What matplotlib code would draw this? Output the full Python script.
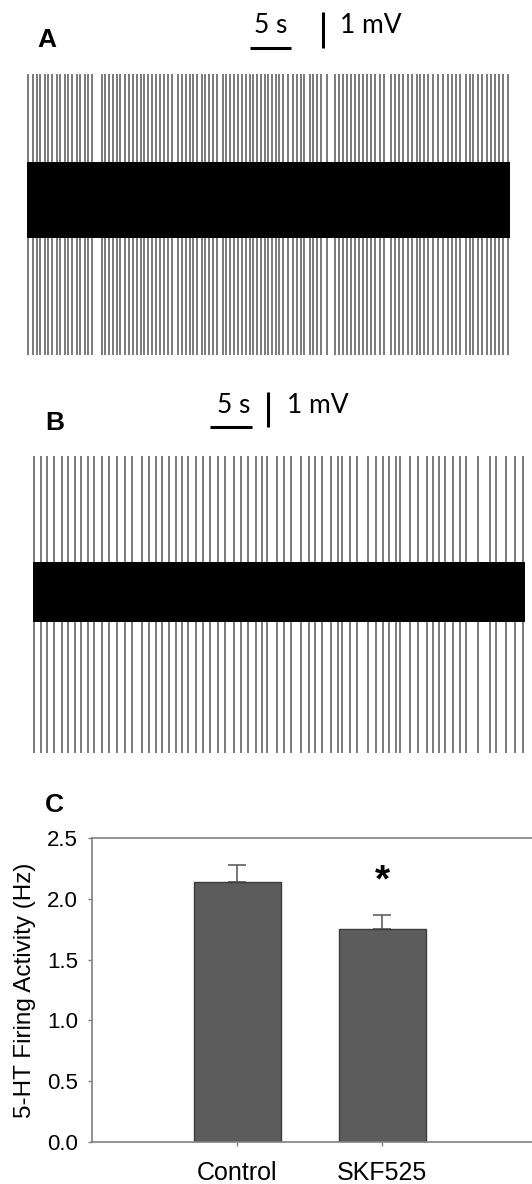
import matplotlib
matplotlib.use("Agg")
import matplotlib.pyplot as plt
import numpy as np

# ---------------- data ----------------
# Panel A: spike times (s) in a ~59 s recording
spikes_a = [0.16, 0.77, 1.18, 1.59, 2.20, 2.60, 3.01, 3.62, 4.02, 4.63, 5.04, 5.45,
            6.06, 6.46, 7.07, 7.48, 7.89, 9.11, 9.51, 10.04, 10.52, 10.94, 11.34,
            11.95, 12.48, 12.96, 13.45, 13.87, 14.30, 14.79, 15.21, 15.73, 16.22,
            16.71, 17.23, 17.65, 18.45, 18.87, 19.35, 19.88, 20.28, 20.77, 21.30,
            21.71, 22.20, 22.65, 23.13, 23.87, 24.27, 24.76, 25.24, 25.77, 26.18,
            26.67, 27.20, 27.60, 28.09, 28.50, 29.02, 29.43, 29.84, 30.33, 30.73,
            31.26, 31.79, 32.48, 32.89, 33.41, 33.82, 34.51, 34.91, 35.33, 35.85,
            36.55, 37.56, 38.05, 38.57, 38.99, 39.51, 40.00, 40.49, 41.01, 41.43,
            41.95, 42.44, 43.05, 43.57, 44.39, 44.88, 45.37, 45.89, 46.43, 46.91,
            47.52, 47.93, 48.45, 48.94, 49.55, 50.09, 50.77, 51.30, 51.79, 52.28,
            52.80, 53.50, 54.02, 54.43, 55.04, 55.52, 56.06, 56.59, 57.07, 57.56,
            58.09, 58.62]
# Panel B: spike times (s)
spikes_b = [0.12, 0.92, 1.70, 2.50, 3.42, 4.20, 5.00, 5.71, 6.58, 7.26, 8.18, 9.05,
            10.04, 10.95, 11.75, 12.94, 13.81, 14.64, 15.39, 16.19, 16.99, 17.70,
            18.49, 19.37, 20.27, 21.07, 21.99, 22.86, 23.93, 24.76, 25.56, 26.55,
            27.30, 27.89, 29.01, 29.88, 30.71, 31.90, 32.89, 33.57, 34.37, 35.44,
            36.35, 36.82, 37.74, 38.54, 39.92, 40.83, 41.63, 42.42, 43.21, 43.77,
            44.96, 45.87, 46.87, 47.65, 48.37, 49.05, 50.04, 50.83, 51.63, 53.01,
            54.40, 55.20, 56.39, 57.38, 58.37]
dur_a, dur_b = 58.9, 58.6            # recording length (s)
spike_up_a, spike_down_a = 3.5, -4.3  # mV
spike_up_b, spike_down_b = 3.9, -4.6
noise_a, noise_b = 1.06, 0.87        # half-width of noise band (mV)

# Panel C: bar chart
categories = ["Control", "SKF525"]
means = [2.14, 1.75]
sems = [0.14, 0.12]
yticks = [0.0, 0.5, 1.0, 1.5, 2.0, 2.5]

# ---------------- figure ----------------
W, H = 532, 1184
fig = plt.figure(figsize=(W / 100, H / 100), dpi=100)

def px_axes(x0, y0, x1, y1):
    """axes from pixel box (top-left origin)"""
    return fig.add_axes([x0 / W, 1 - y1 / H, (x1 - x0) / W, (y1 - y0) / H])

spike_col = "#6a6a6a"
scale_font = dict(family=["Lato", "DejaVu Sans"], fontsize=19, color="black")

def trace(ax, spikes, dur, up, down, noise, ylo, yhi):
    ax.set_xlim(0, dur)
    ax.set_ylim(ylo, yhi)
    ax.axis("off")
    ax.vlines(spikes, down, up, color=spike_col, lw=1.25, zorder=1)
    ax.fill_between([0, dur], [-noise, -noise], [noise, noise],
                    color="black", lw=0, zorder=2)

# Panel A  (8.2 px / s, 36 px / mV, centre at y=200 px)
axA = px_axes(27, 0, 510, 365)
trace(axA, spikes_a, dur_a, spike_up_a, spike_down_a, noise_a,
      -165 / 36, 200 / 36)
axA.plot([27.2, 32.2], [4.22, 4.22], color="black", lw=2.2, solid_capstyle="butt")
axA.plot([36.1, 36.1], [4.22, 5.22], color="black", lw=2.2, solid_capstyle="butt")
axA.text(29.7, 4.64, "5 s", ha="center", va="baseline", **scale_font)
axA.text(38.2, 4.64, "1 mV", ha="left", va="baseline", **scale_font)

# Panel B  (8.4 px / s, 35 px / mV, centre at y=592 px)
axB = px_axes(33, 380, 525, 765)
trace(axB, spikes_b, dur_b, spike_up_b, spike_down_b, noise_b,
      (592 - 765) / 35, (592 - 380) / 35)
axB.plot([21.07, 26.07], [4.71, 4.71], color="black", lw=2.2, solid_capstyle="butt")
axB.plot([27.98, 27.98], [4.71, 5.71], color="black", lw=2.2, solid_capstyle="butt")
axB.text(23.87, 5.11, "5 s", ha="center", va="baseline", **scale_font)
axB.text(30.24, 5.11, "1 mV", ha="left", va="baseline", **scale_font)

# Panel labels
lab = dict(family="Liberation Sans", fontsize=19, fontweight="bold")
fig.text(37 / W, 1 - 47 / H, "A", ha="left", va="baseline", **lab)
fig.text(45 / W, 1 - 430 / H, "B", ha="left", va="baseline", **lab)
fig.text(45 / W, 1 - 812 / H, "C", ha="left", va="baseline", **lab)

# Panel C
axC = px_axes(92, 838, 92 + 3.1 * 145, 1142)
x = np.arange(1, len(categories) + 1)
axC.bar(x, means, width=0.6, color="#5c5c5c", edgecolor="#3c3c3c", lw=1.0, zorder=2)
axC.errorbar(x, means, yerr=[np.zeros(len(sems)), sems], fmt="none",
             ecolor="#606060", elinewidth=1.2, capsize=6.5, capthick=1.2, zorder=1)
axC.text(2, 2.14, "*", ha="center", va="center", fontsize=28, fontweight="bold",
         family="Liberation Sans")
axC.set_xlim(0, 3.1)
axC.set_ylim(0, 2.5)
axC.set_yticks(yticks)
axC.set_yticklabels([f"{v:.1f}" for v in yticks])
axC.set_xticks(x)
axC.set_xticklabels(categories)
for s in ["left", "bottom", "top"]:
    axC.spines[s].set_color("#808080")
    axC.spines[s].set_linewidth(1.2)
axC.spines["right"].set_visible(False)
axC.tick_params(axis="y", direction="out", length=3, width=1, color="#808080",
                pad=7, labelsize=16)
axC.tick_params(axis="x", direction="out", length=3, width=1, color="#808080",
                pad=11, labelsize=18)
for t in axC.get_xticklabels() + axC.get_yticklabels():
    t.set_family("Liberation Sans")
axC.set_ylabel("5-HT Firing Activity (Hz)", family="Liberation Sans", fontsize=17.5,
               labelpad=8)

fig.savefig("out.png", dpi=100)
